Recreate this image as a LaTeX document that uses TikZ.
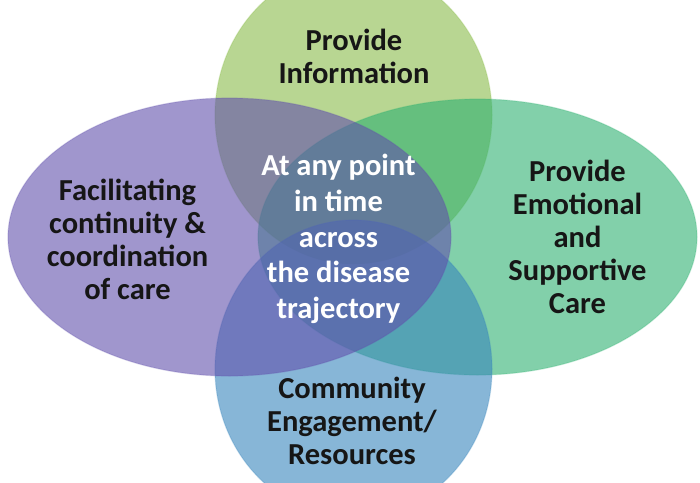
\documentclass[tikz,border=0pt]{standalone}
\usepackage{fontspec}
\setmainfont{Carlito}
\usetikzlibrary{shapes.geometric}
\definecolor{topC}{RGB}{137,187,73}
\definecolor{rightC}{RGB}{47,177,113}
\definecolor{bottomC}{RGB}{55,133,188}
\definecolor{leftC}{RGB}{97,80,172}
\definecolor{txt}{RGB}{22,22,22}
\tikzset{
  blob/.style={ellipse, inner sep=0pt, fill=#1, fill opacity=0.6, draw=#1, draw opacity=0.25, line width=1.2pt},
  label/.style={align=center, text=txt, font=\bfseries\fontsize{30.5}{33}\selectfont, inner sep=0pt},
  centrelabel/.style={align=center, text=white, font=\bfseries\fontsize{30.5}{35.7}\selectfont, inner sep=0pt}
}
\begin{document}
\begin{tikzpicture}[x=1pt,y=-1pt]
\useasboundingbox (0,0) rectangle (700,482);
\begin{scope}
\clip (0,0) rectangle (700,482);
\node[blob=topC, minimum width=277pt, minimum height=298pt] (topE) at (353.5,115) {};
\node[blob=rightC, minimum width=439pt, minimum height=276pt] (rightE) at (477.5,237) {};
\node[blob=bottomC, minimum width=277pt, minimum height=298pt] (bottomE) at (353.5,369) {};
\node[blob=leftC, minimum width=443pt, minimum height=278pt] (leftE) at (229.5,237) {};
\end{scope}
\node[label] (topT) at (354,56) {Provide\\Information};
\node[label] (leftT) at (127.5,239) {Facilitating\\continuity \&\\coordination\\of care};
\node[label] (rightT) at (577.5,237) {Provide\\Emotional\\and\\Supportive\\Care};
\node[label] (bottomT) at (352,421) {Community\\Engagement/\\Resources};
\node[centrelabel] (centreT) at (338.5,239) {At any point\\in time\\across\\the disease\\trajectory};
\end{tikzpicture}
\end{document}
